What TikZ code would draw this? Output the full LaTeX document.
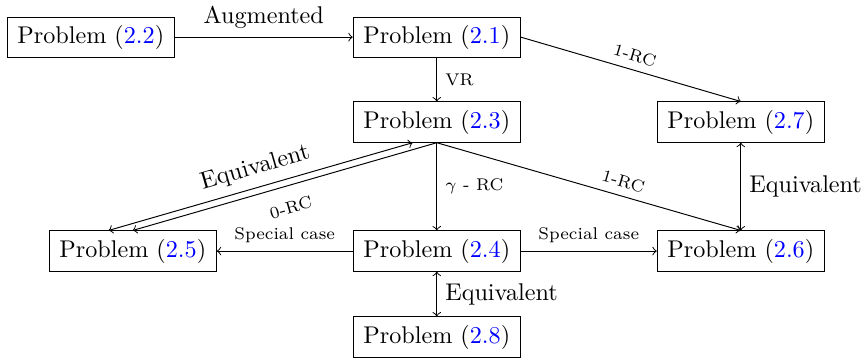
\documentclass[tikz,border=0pt]{standalone}
\usetikzlibrary{positioning}
\colorlet{refBlue}{blue}
\tikzstyle{problemBox}=[draw,rectangle,inner xsep=4.2pt]
\tikzstyle{edgeLabel}=[font=\scriptsize]
\newcommand{\probRef}[1]{Problem (\textcolor{refBlue}{#1})}

\begin{document}
\begin{tikzpicture}
\useasboundingbox (-6.35,-1.60) rectangle (6.24,3.65);
        \node[problemBox] (pTwoTwo) at (-5.03,3.11) {\probRef{2.2}};
        \node[problemBox] (pTwoOne) at (0,3.11) {\probRef{2.1}};
        \node[problemBox] (pTwoThree) at (0,1.875) {\probRef{2.3}};
        \node[problemBox] (pTwoSeven) at (4.42,1.875) {\probRef{2.7}};
        \node[problemBox] (pTwoFive) at (-4.42,0) {\probRef{2.5}};
        \node[problemBox] (pTwoFour) at (0,0) {\probRef{2.4}};
        \node[problemBox] (pTwoSix) at (4.42,0) {\probRef{2.6}};
        \node[problemBox] (pTwoEight) at (0,-1.25) {\probRef{2.8}};

        \draw[->] (pTwoTwo) -- node[above] {Augmented} (pTwoOne);
        \draw[->] (pTwoOne) -- node[right,edgeLabel] {VR} (pTwoThree);
        \draw[->] (pTwoOne.east) -- node[above,sloped,edgeLabel] {1-RC} (pTwoSeven.north);
        \draw[->] (pTwoThree) -- node[right,edgeLabel] {$\gamma$ - RC} (pTwoFour);
        \draw[->] (pTwoThree.south) -- node[above,sloped,pos=.6,edgeLabel] {1-RC} (pTwoSix.north);
        \draw[->] (pTwoThree.south) -- node[below=3pt,sloped,edgeLabel] {0-RC} (pTwoFive.north);
        \draw[<->] ([xshift=-10pt]pTwoFive.north) -- node[above,sloped] {Equivalent} ([xshift=-10pt]pTwoThree.south);
        \draw[->] (pTwoFour) -- node[above,edgeLabel] {Special case} (pTwoFive);
        \draw[->] (pTwoFour) -- node[above,edgeLabel] {Special case} (pTwoSix);
        \draw[<->] (pTwoSeven) -- node[right] {Equivalent} (pTwoSix);
        \draw[<->] (pTwoFour) -- node[right] {Equivalent} (pTwoEight);
\end{tikzpicture}
\end{document}
